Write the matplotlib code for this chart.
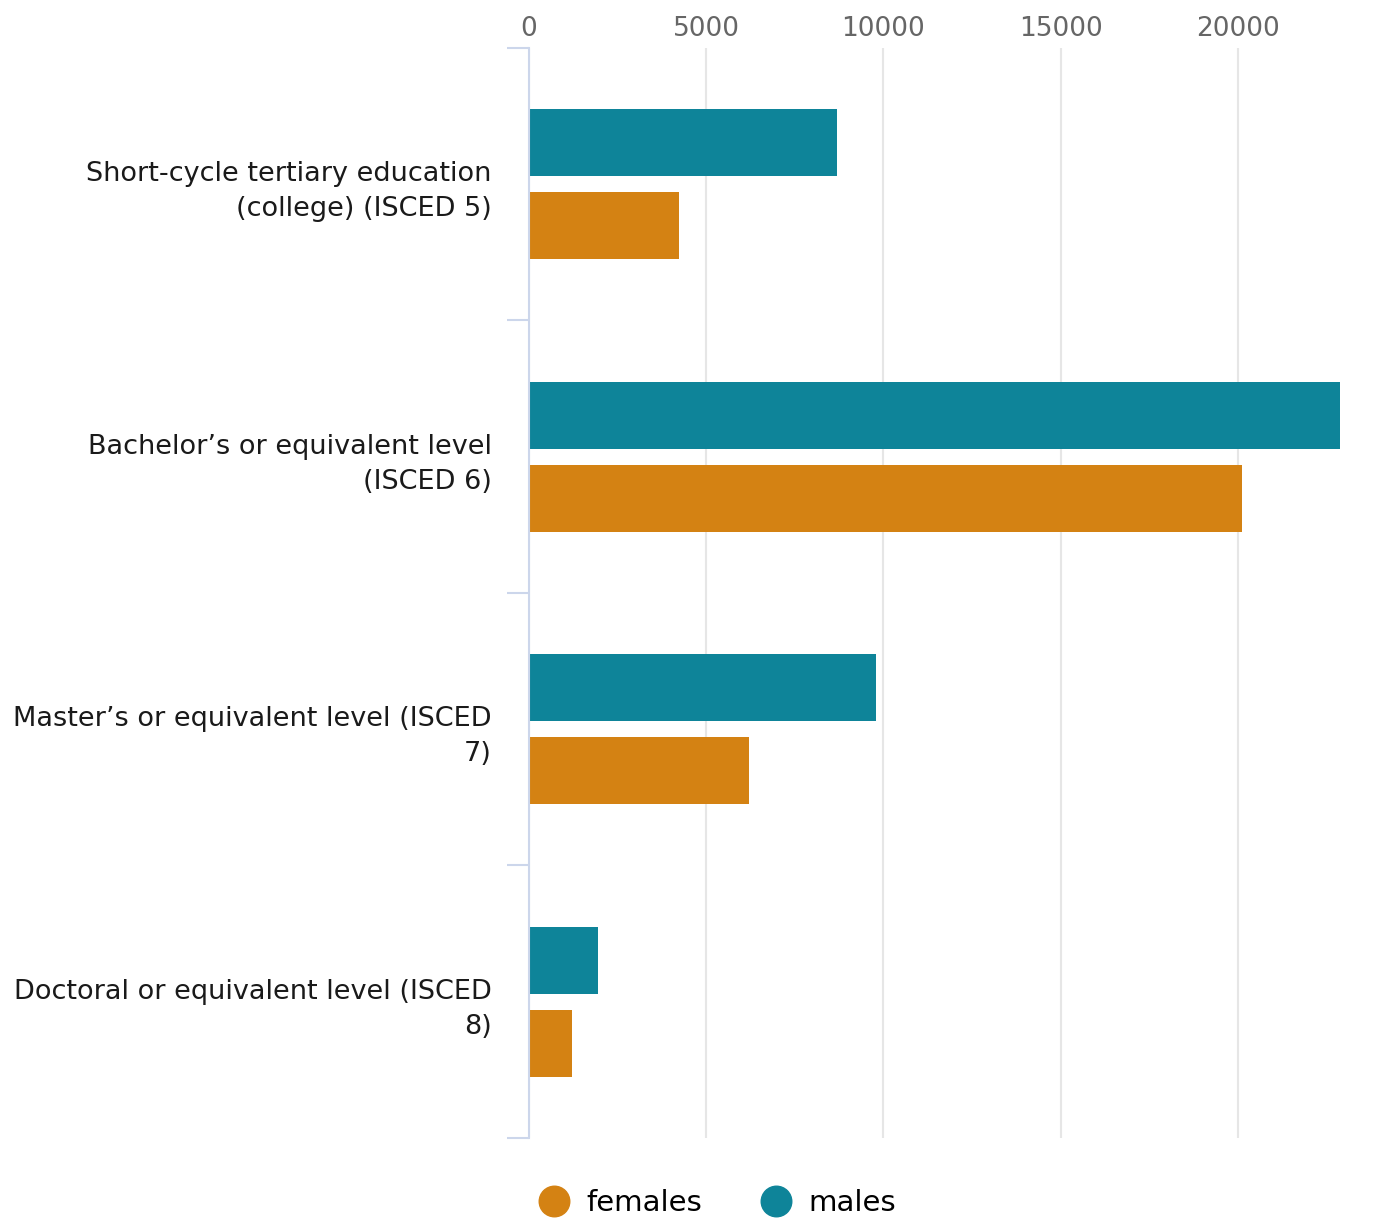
import matplotlib
matplotlib.use('Agg')

import matplotlib.pyplot as plt
from matplotlib.lines import Line2D

categories = [
    "Short-cycle tertiary education\n(college) (ISCED 5)",
    "Bachelor\u2019s or equivalent level\n(ISCED 6)",
    "Master\u2019s or equivalent level (ISCED\n7)",
    "Doctoral or equivalent level (ISCED\n8)",
]
males = [8700, 22880, 9790, 1950]
females = [4230, 20110, 6200, 1210]

male_color = "#0e8499"
female_color = "#d48213"
axis_color = "#ccd6eb"
grid_color = "#e6e6e6"

plt.rcParams['font.family'] = ['DejaVu Sans']

fig = plt.figure(figsize=(13.98, 12.21), dpi=100)
ax = fig.add_axes([0.3784, 0.068, 0.5801, 0.8927])

pos = list(range(len(categories)))
offset = 0.153
h = 0.246
ax.barh([p - offset for p in pos], males, height=h, color=male_color, zorder=3)
ax.barh([p + offset for p in pos], females, height=h, color=female_color, zorder=3)

ax.set_ylim(len(categories) - 0.5, -0.5)
ax.set_xlim(0, max(males))

# x axis on top, gridlines only
ax.xaxis.tick_top()
ax.set_xticks([0, 5000, 10000, 15000, 20000])
ax.set_xticklabels(["0", "5000", "10000", "15000", "20000"])
ax.tick_params(axis='x', length=0, pad=4, labelsize=19, labelcolor="#666666")
ax.grid(axis='x', color=grid_color, linewidth=1.5, zorder=0)

# y axis: labels at centres, tick marks at category boundaries
ax.set_yticks(pos)
ax.set_yticklabels(categories)
ax.set_yticks([p - 0.5 for p in pos] + [len(pos) - 0.5], minor=True)
ax.tick_params(axis='y', which='major', length=0, pad=27, labelsize=19.5, labelcolor="#1a1a1a")
ax.tick_params(axis='y', which='minor', length=16, width=1.5, color=axis_color)
for lab in ax.get_yticklabels():
    lab.set_horizontalalignment('right')
    lab.set_linespacing(1.45)

for side in ['top', 'right', 'bottom']:
    ax.spines[side].set_visible(False)
ax.spines['left'].set_color(axis_color)
ax.spines['left'].set_linewidth(1.5)
ax.spines['left'].set_zorder(4)

handles = [
    Line2D([], [], marker='o', linestyle='none', markersize=22, color=female_color, label='females'),
    Line2D([], [], marker='o', linestyle='none', markersize=22, color=male_color, label='males'),
]
fig.legend(handles=handles, loc='center', bbox_to_anchor=(0.508, 1 - 1203 / 1221), ncol=2,
           frameon=False, fontsize=21, handletextpad=0.1, columnspacing=1.55)

plt.savefig("out.png", dpi=100)
plt.close()
